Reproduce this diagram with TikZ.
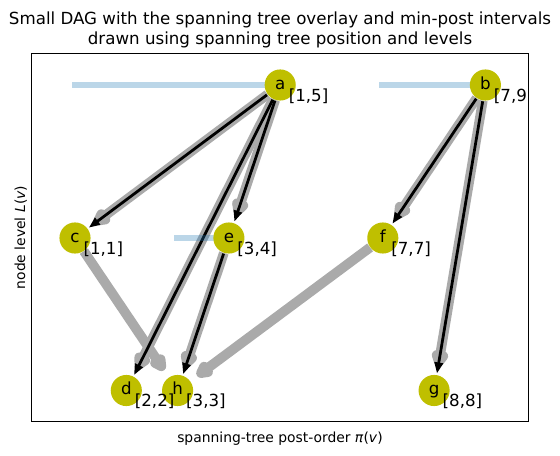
\documentclass[tikz,border=0pt]{standalone}
\usepackage{fontspec}
\setmainfont{DejaVu Sans}
\usetikzlibrary{calc,arrows.meta}
\pgfdeclarelayer{bg}
\pgfdeclarelayer{mid}
\pgfsetlayers{bg,mid,main}
\definecolor{nodey}{RGB}{191,191,0}
\definecolor{edgegray}{RGB}{170,170,170}
\definecolor{tabblue}{RGB}{31,119,180}
\begin{document}
\begin{tikzpicture}[x=0.72pt,y=-0.72pt,
  vtx/.style={circle, fill=nodey, minimum size=22.4pt, inner sep=0pt,
    font=\fontsize{12}{14.4}\selectfont, text height=9pt, text depth=3pt},
  ivl/.style={anchor=west, inner sep=0pt,
    font=\fontsize{12}{14.4}\selectfont, text height=9pt, text depth=3pt},
  treeedge/.style={draw=black, line width=2pt, -{Triangle[length=8pt,width=6pt]},
    shorten >=1pt, shorten <=0.5pt},
  grayline/.style={draw=edgegray, line width=7pt},
  grayhead/.style={draw=edgegray, fill=edgegray, line width=7pt, line join=round},
  ivlbar/.style={draw=tabblue, draw opacity=0.3, line width=5pt, line cap=rect},
  axlabel/.style={font=\fontsize{10}{12}\selectfont, inner sep=0pt, anchor=base}
]
\useasboundingbox (0,0) rectangle (560,456);

% title
\node[anchor=base, inner sep=0pt, font=\fontsize{12}{14.4}\selectfont] (title) at (280,44.7)
  {\begin{tabular}[b]{@{}c@{}}Small DAG with the spanning tree overlay and min-post intervals\\
   drawn using spanning tree position and levels\end{tabular}};

% vertices
\node[vtx] (a) at (280.2,85) {a};
\node[vtx] (b) at (485.4,85) {b};
\node[vtx] (c) at (75,238) {c};
\node[vtx] (e) at (228.9,238) {e};
\node[vtx] (f) at (382.8,238) {f};
\node[vtx] (d) at (126.3,390.5) {d};
\node[vtx] (h) at (177.6,390.5) {h};
\node[vtx] (g) at (434.1,390.5) {g};

% all DAG edges (gray)
\begin{pgfonlayer}{bg}
\foreach \s/\t in {a/c,a/e,a/d,e/h,b/f,b/g,c/h,f/h}{
  \coordinate (tp-\s\t) at ($(\t)!21pt!(\s)$);
  \coordinate (bs-\s\t) at ($(\t)!25.5pt!(\s)$);
  \draw[grayline] (\s) -- (bs-\s\t);
  \filldraw[grayhead] (tp-\s\t) -- ($(bs-\s\t)!2.4pt!90:(\t)$)
     -- ($(bs-\s\t)!2.4pt!-90:(\t)$) -- cycle;
}
\end{pgfonlayer}

% spanning tree edges and intervals
\begin{pgfonlayer}{mid}
\draw[treeedge] (a) -- (c);
\draw[treeedge] (a) -- (e);
\draw[treeedge] (a) -- (d);
\draw[treeedge] (e) -- (h);
\draw[treeedge] (b) -- (f);
\draw[treeedge] (b) -- (g);
\coordinate (ia) at (c |- a);
\coordinate (ib) at (f |- b);
\coordinate (ie) at (h |- e);
\draw[ivlbar] (ia) -- (a.center);
\draw[ivlbar] (ib) -- (b.center);
\draw[ivlbar] (ie) -- (e.center);
\end{pgfonlayer}

% interval labels (clipped to the axes)
\begin{scope}
\clip (31.5,53.5) rectangle (528.5,421.5);
\node[ivl] (la) at (288.5,97) {[1,5]};
\node[ivl] (lb) at (493.7,97) {[7,9]};
\node[ivl] (lc) at (83.3,250) {[1,1]};
\node[ivl] (le) at (237.2,250) {[3,4]};
\node[ivl] (lf) at (391.1,250) {[7,7]};
\node[ivl] (ld) at (134.6,402.5) {[2,2]};
\node[ivl] (lh) at (185.9,402.5) {[3,3]};
\node[ivl] (lg) at (442.4,402.5) {[8,8]};
\end{scope}

% axes frame and labels
\draw[line width=0.8pt] (31.5,53.5) rectangle (528.5,421.5);
\node[axlabel] (xl) at (280,442) {spanning-tree post-order \textit{π}(\textit{v})};
\node[axlabel, rotate=90] (yl) at (25,237.5) {node level \textit{L}(\textit{v})};
\end{tikzpicture}
\end{document}
